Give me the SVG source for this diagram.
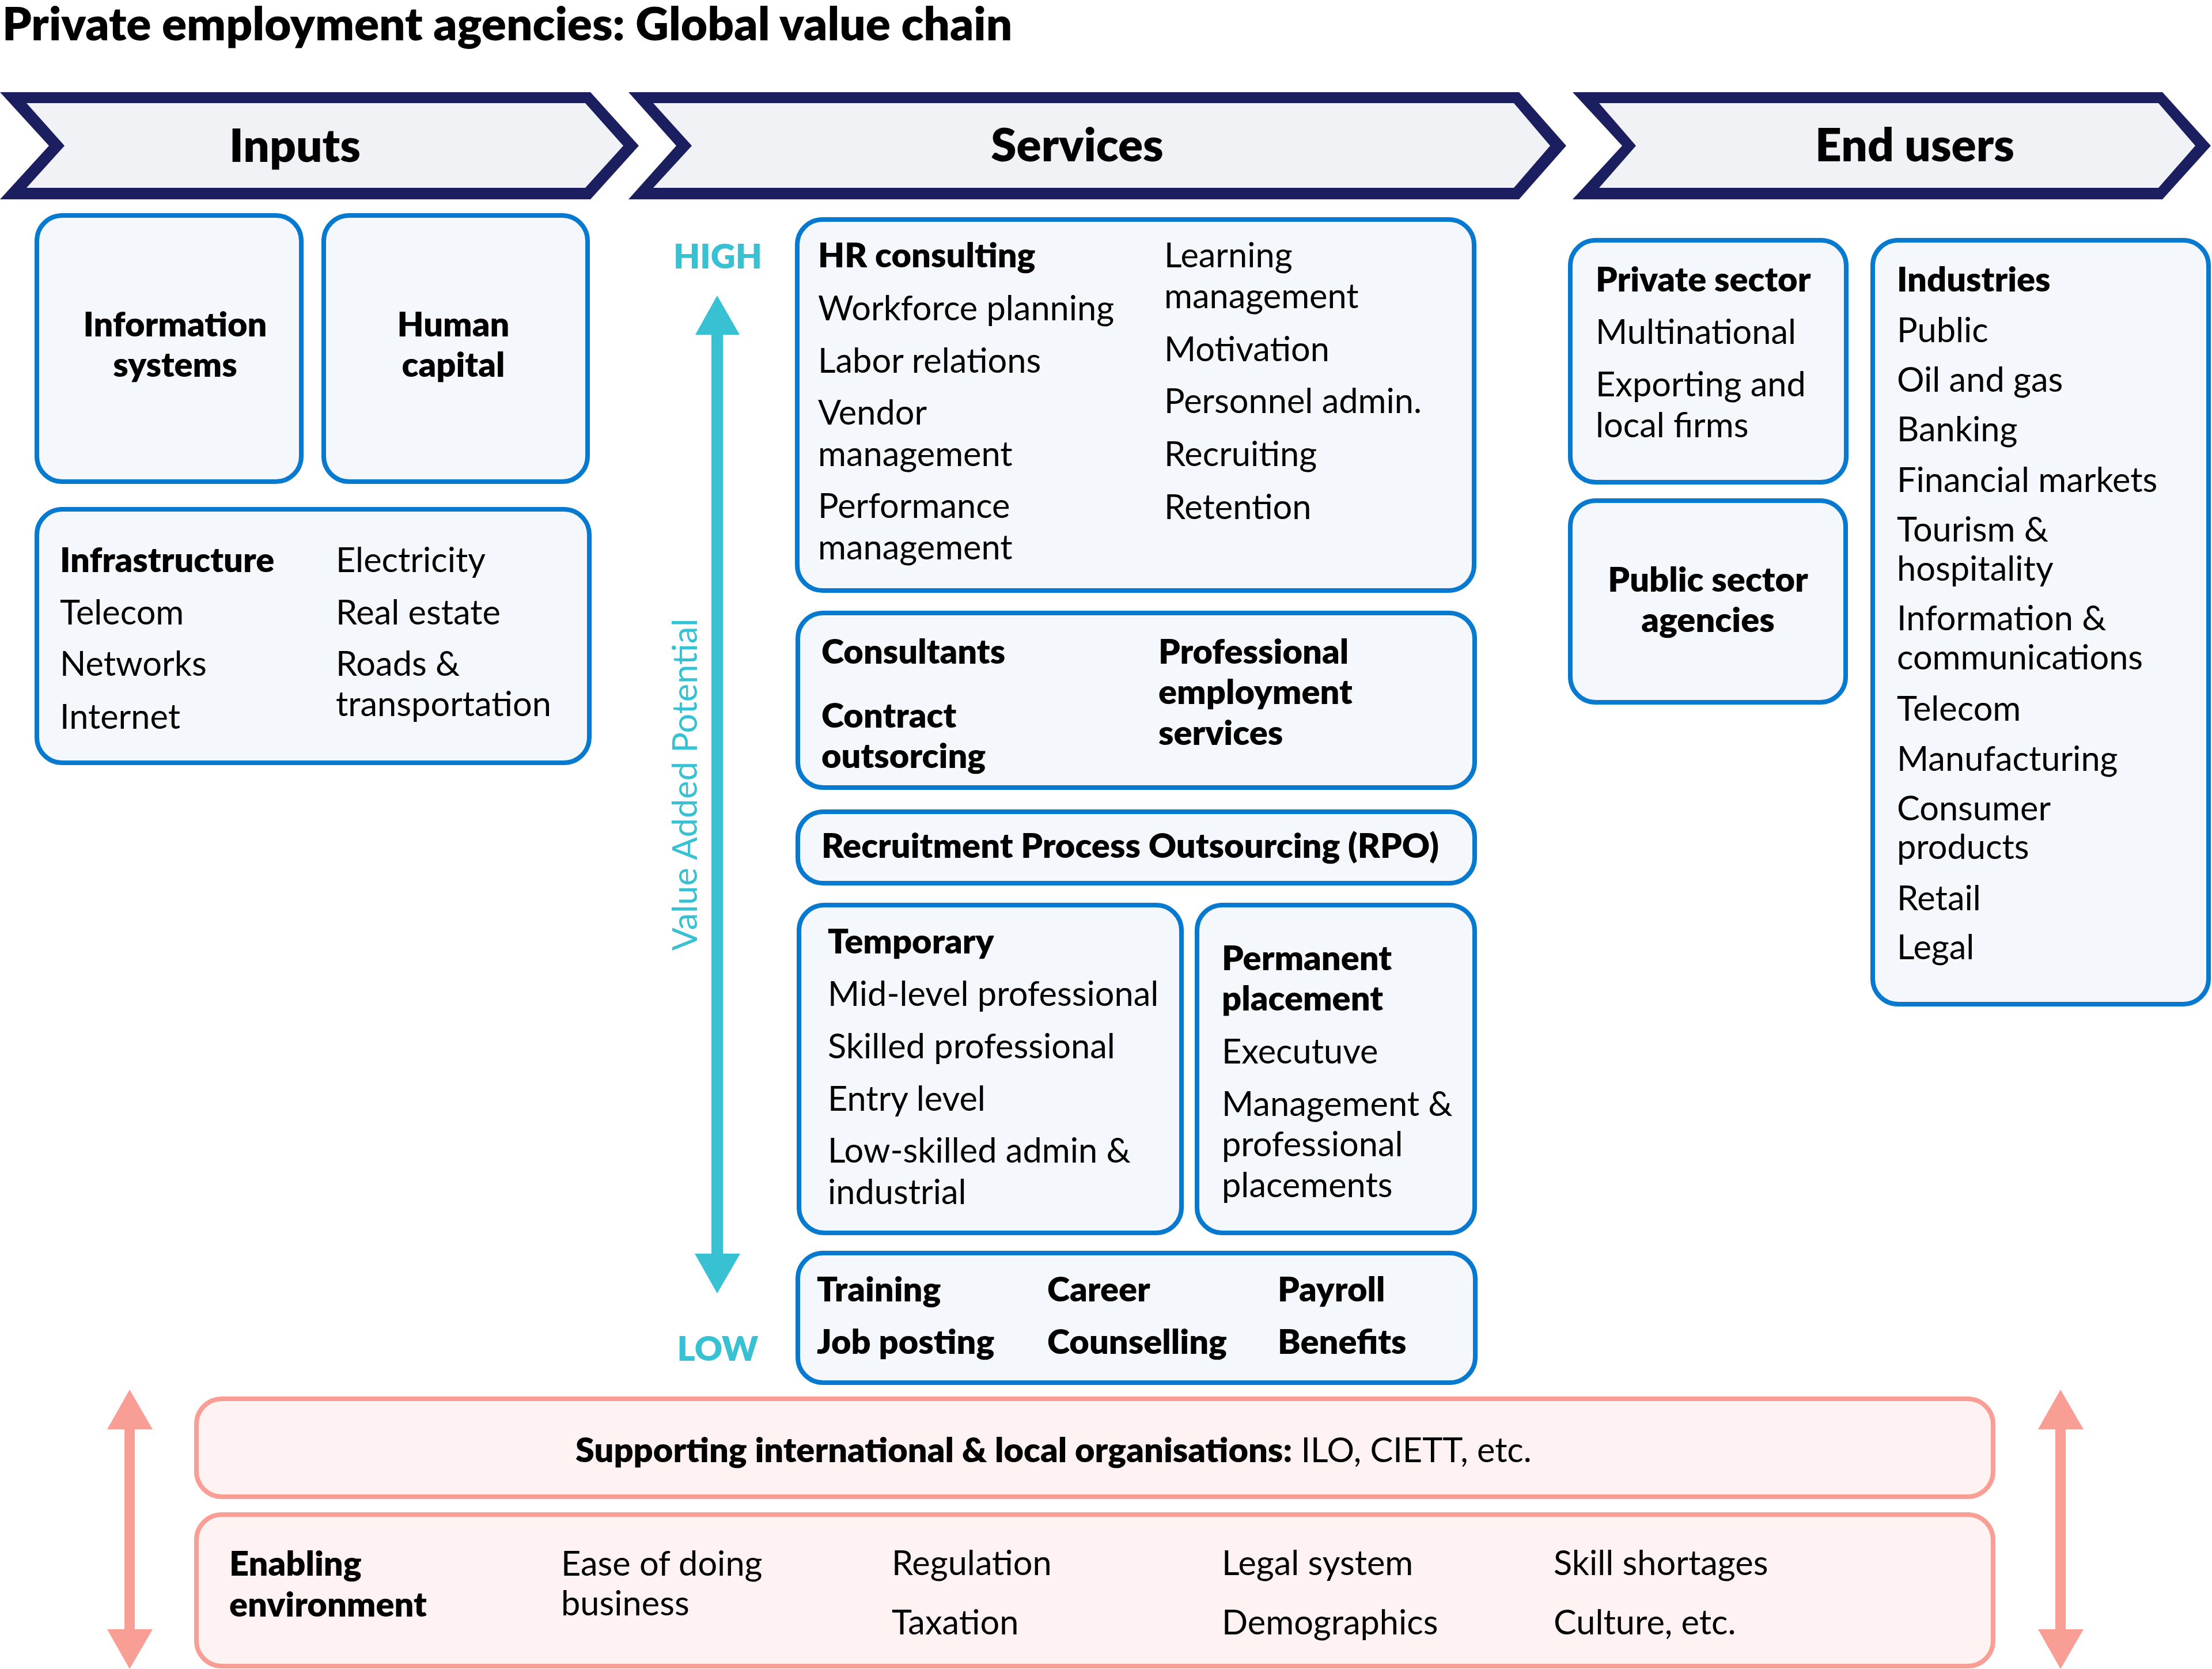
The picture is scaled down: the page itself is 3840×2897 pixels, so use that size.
<svg xmlns="http://www.w3.org/2000/svg" width="3840" height="2897" viewBox="0 0 3840 2897">
<style>
text{font-family:Lato,"Noto Sans","Liberation Sans",sans-serif;fill:#000}
.t{font-size:59.5px}
.b{font-weight:800}
.h{font-size:80px;font-weight:800}
.mid{text-anchor:middle}
.cy{fill:#38C1D2}
.chevO{fill:#1B1F5F}
.chevI{fill:#F1F2F6}
.box{fill:#F4F7FC;stroke:#0779CF;stroke-width:8}
.sbox{fill:#FEF2F2;stroke:#F99E94;stroke-width:8}
</style>
<rect width="3840" height="2897" fill="#fff"/>
<text x="4" y="70" class="h">Private employment agencies: Global value chain</text>

<g id="chevron-inputs">
<polygon class="chevO" points="0,160 1025,160 1109,253 1025,346 0,346 85,253"/>
<polygon class="chevI" points="46,179 1016,179 1082,253 1016,326 46,326 112,253"/>
<text x="512" y="281" class="h mid">Inputs</text>
</g>
<g id="chevron-services">
<polygon class="chevO" points="1091,160 2637,160 2719,253 2637,346 1091,346 1174,253"/>
<polygon class="chevI" points="1134,179 2628,179 2691,253 2628,326 1134,326 1201,253"/>
<text x="1870" y="280" class="h mid">Services</text>
</g>
<g id="chevron-endusers">
<polygon class="chevO" points="2730,160 3754,160 3838,253 3754,346 2730,346 2816,253"/>
<polygon class="chevI" points="2776,179 3747,179 3811,253 3747,326 2776,326 2840,253"/>
<text x="3324" y="280" class="h mid">End users</text>
</g>

<g id="info-systems">
<rect class="box" x="64" y="374" width="459" height="462" rx="44"/>
<text x="304" y="584" class="t b mid">Information</text>
<text x="304" y="654" class="t b mid">systems</text>
</g>
<g id="human-capital">
<rect class="box" x="562" y="374" width="458" height="462" rx="44"/>
<text x="787" y="584" class="t b mid">Human</text>
<text x="787" y="654" class="t b mid">capital</text>
</g>
<g id="infrastructure">
<rect class="box" x="64" y="884" width="959" height="440" rx="44"/>
<text x="104" y="993" class="t b">Infrastructure</text>
<text x="104" y="1084" class="t">Telecom</text>
<text x="104" y="1173" class="t">Networks</text>
<text x="104" y="1265" class="t">Internet</text>
<text x="583" y="993" class="t">Electricity</text>
<text x="583" y="1084" class="t">Real estate</text>
<text x="583" y="1173" class="t">Roads &amp;</text>
<text x="583" y="1243" class="t">transportation</text>
</g>

<g id="value-axis">
<text x="1246" y="466" class="t b mid cy">HIGH</text>
<text x="1246" y="2362" class="t b mid cy">LOW</text>
<text transform="translate(1210,1362) rotate(-90)" class="t mid cy">Value Added Potential</text>
</g>

<g id="hr-consulting">
<rect class="box" x="1384" y="381" width="1175" height="644" rx="44"/>
<text x="1420" y="464" class="t b">HR consulting</text>
<text x="1420" y="556" class="t">Workforce planning</text>
<text x="1420" y="647" class="t">Labor relations</text>
<text x="1420" y="737" class="t">Vendor</text>
<text x="1420" y="809" class="t">management</text>
<text x="1420" y="899" class="t">Performance</text>
<text x="1420" y="971" class="t">management</text>
<text x="2021" y="464" class="t">Learning</text>
<text x="2021" y="535" class="t">management</text>
<text x="2021" y="627" class="t">Motivation</text>
<text x="2021" y="717" class="t">Personnel admin.</text>
<text x="2021" y="809" class="t">Recruiting</text>
<text x="2021" y="901" class="t">Retention</text>
</g>
<g id="consultants">
<rect class="box" x="1385" y="1064" width="1175" height="303" rx="44"/>
<text x="1426" y="1152" class="t b">Consultants</text>
<text x="1426" y="1263" class="t b">Contract</text>
<text x="1426" y="1333" class="t b">outsorcing</text>
<text x="2011" y="1152" class="t b">Professional</text>
<text x="2011" y="1222" class="t b">employment</text>
<text x="2011" y="1293" class="t b">services</text>
</g>
<g id="rpo">
<rect class="box" x="1385" y="1409" width="1175" height="124" rx="44"/>
<text x="1426" y="1489" class="t b">Recruitment Process Outsourcing (RPO)</text>
</g>
<g id="temporary">
<rect class="box" x="1387" y="1571" width="664" height="569" rx="44"/>
<text x="1437" y="1655" class="t b">Temporary</text>
<text x="1437" y="1746" class="t">Mid-level professional</text>
<text x="1437" y="1837" class="t">Skilled professional</text>
<text x="1437" y="1928" class="t">Entry level</text>
<text x="1437" y="2018" class="t">Low-skilled admin &amp;</text>
<text x="1437" y="2090" class="t">industrial</text>
</g>
<g id="permanent">
<rect class="box" x="2078" y="1571" width="482" height="569" rx="44"/>
<text x="2121" y="1684" class="t b">Permanent</text>
<text x="2121" y="1754" class="t b">placement</text>
<text x="2121" y="1846" class="t">Executuve</text>
<text x="2121" y="1937" class="t">Management &amp;</text>
<text x="2121" y="2007" class="t">professional</text>
<text x="2121" y="2078" class="t">placements</text>
</g>
<g id="training">
<rect class="box" x="1385" y="2175" width="1176" height="225" rx="44"/>
<text x="1418" y="2259" class="t b">Training</text>
<text x="1418" y="2350" class="t b">Job posting</text>
<text x="1818" y="2259" class="t b">Career</text>
<text x="1818" y="2350" class="t b">Counselling</text>
<text x="2218" y="2259" class="t b">Payroll</text>
<text x="2218" y="2350" class="t b">Benefits</text>
</g>

<g id="private-sector">
<rect class="box" x="2726" y="417" width="479" height="420" rx="44"/>
<text x="2770" y="506" class="t b">Private sector</text>
<text x="2770" y="597" class="t">Multinational</text>
<text x="2770" y="688" class="t">Exporting and</text>
<text x="2770" y="759" class="t">local firms</text>
</g>
<g id="public-sector">
<rect class="box" x="2726" y="869" width="478" height="350" rx="44"/>
<text x="2965" y="1027" class="t b mid">Public sector</text>
<text x="2965" y="1097" class="t b mid">agencies</text>
</g>
<g id="industries">
<rect class="box" x="3251" y="417" width="583" height="1326" rx="44"/>
<text x="3293" y="506" class="t b">Industries</text>
<text x="3293" y="594" class="t">Public</text>
<text x="3293" y="680" class="t">Oil and gas</text>
<text x="3293" y="766" class="t">Banking</text>
<text x="3293" y="854" class="t">Financial markets</text>
<text x="3293" y="940" class="t">Tourism &amp;</text>
<text x="3293" y="1008" class="t">hospitality</text>
<text x="3293" y="1094" class="t">Information &amp;</text>
<text x="3293" y="1162" class="t">communications</text>
<text x="3293" y="1251" class="t">Telecom</text>
<text x="3293" y="1338" class="t">Manufacturing</text>
<text x="3293" y="1424" class="t">Consumer</text>
<text x="3293" y="1491" class="t">products</text>
<text x="3293" y="1580" class="t">Retail</text>
<text x="3293" y="1665" class="t">Legal</text>
</g>

<g id="supporting">
<rect class="sbox" x="341" y="2428" width="3119" height="170" rx="44"/>
<text x="999" y="2538" class="t"><tspan class="b">Supporting international &amp; local organisations:</tspan> ILO, CIETT, etc.</text>
</g>
<g id="enabling">
<rect class="sbox" x="341" y="2629" width="3119" height="263" rx="44"/>
<text x="398" y="2735" class="t b">Enabling</text>
<text x="398" y="2806" class="t b">environment</text>
<text x="974" y="2735" class="t">Ease of doing</text>
<text x="974" y="2804" class="t">business</text>
<text x="1548" y="2734" class="t">Regulation</text>
<text x="1548" y="2837" class="t">Taxation</text>
<text x="2121" y="2734" class="t">Legal system</text>
<text x="2121" y="2837" class="t">Demographics</text>
<text x="2697" y="2734" class="t">Skill shortages</text>
<text x="2697" y="2837" class="t">Culture, etc.</text>
</g>

<g id="connectors">
<line x1="1245" y1="575" x2="1245" y2="2182" stroke="#38C1D2" stroke-width="20"/>
<polygon points="1245,513 1207,581 1284,581" fill="#38C1D2"/>
<polygon points="1206,2176 1285,2176 1245,2245" fill="#38C1D2"/>
<line x1="225" y1="2475" x2="225" y2="2834" stroke="#F99E94" stroke-width="18"/>
<polygon points="225,2412 186,2481 265,2481" fill="#F99E94"/>
<polygon points="186,2828 265,2828 225,2897" fill="#F99E94"/>
<line x1="3577" y1="2475" x2="3577" y2="2834" stroke="#F99E94" stroke-width="18"/>
<polygon points="3577,2412 3538,2481 3617,2481" fill="#F99E94"/>
<polygon points="3538,2828 3617,2828 3577,2897" fill="#F99E94"/>
</g>
</svg>
